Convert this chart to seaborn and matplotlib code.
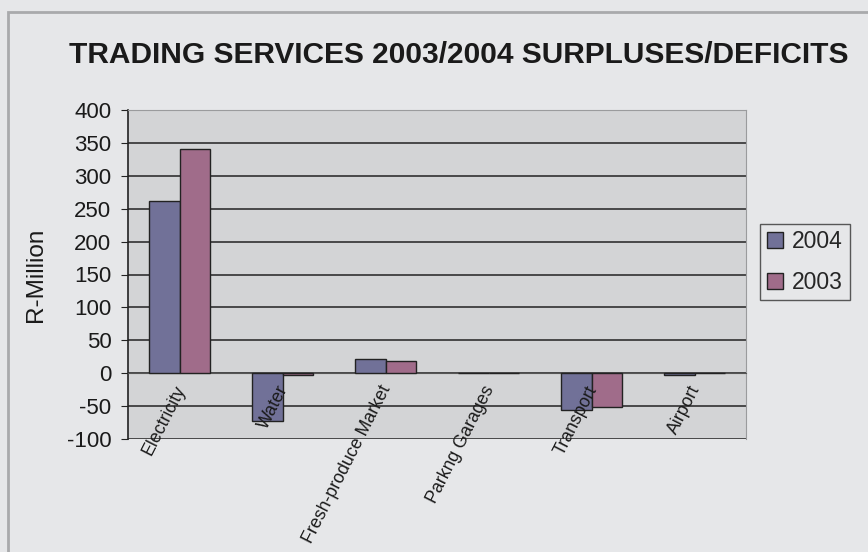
import numpy as np
import pandas as pd
import matplotlib
matplotlib.use('Agg')
import matplotlib.pyplot as plt
import matplotlib.transforms as mtransforms
import seaborn as sns
from matplotlib.patches import Rectangle

categories = ['Electricity', 'Water', 'Fresh-produce Market', 'Parkng Garages', 'Transport', 'Airport']
years = ['2004', '2003']
values_2004 = [262, -73, 22, 0, -56, -3]
values_2003 = [340, -3, 19, 0, -52, 0]
y_ticks = [-100, -50, 0, 50, 100, 150, 200, 250, 300, 350, 400]

colors = ['#717198', '#A06C8A']

df = pd.DataFrame({
    'category': categories * 2,
    'year': [years[0]] * len(categories) + [years[1]] * len(categories),
    'value': values_2004 + values_2003,
})

sns.set_style('white')
plt.rcParams['font.family'] = ['Liberation Sans', 'DejaVu Sans']
plt.rcParams['axes.unicode_minus'] = False

fig = plt.figure(figsize=(8.68, 5.52), dpi=100)
fig.patch.set_facecolor('#E6E7E9')
fig.patches.append(Rectangle((8 / 868, -0.05), 1.1, (552 - 12) / 552 + 0.05,
                             transform=fig.transFigure, fill=False,
                             edgecolor='#A9AAAC', linewidth=2))

ax = fig.add_axes([128 / 868, (552 - 439) / 552, (746 - 128) / 868, (439 - 110) / 552])
ax.set_facecolor('#D3D4D6')

sns.barplot(data=df, x='category', y='value', hue='year', hue_order=years,
            palette=colors, width=0.6, edgecolor='#222222', linewidth=1,
            saturation=1, ax=ax, zorder=3)

ax.set_ylim(-100, 400)
ax.set_xlim(-0.5, len(categories) - 0.5)
ax.set_yticks(y_ticks)
ax.yaxis.grid(True, color='#222222', linewidth=1.1, zorder=0)
ax.set_axisbelow(True)
ax.xaxis.set_zorder(5)

# x axis crosses at zero, ticks between categories
ax.spines['bottom'].set_position(('data', 0))
ax.spines['bottom'].set_color('#555555')
ax.spines['left'].set_color('#222222')
ax.spines['left'].set_linewidth(1.2)
ax.spines['top'].set_color('#9A9B9D')
ax.spines['right'].set_color('#9A9B9D')
ax.set_xticks(np.arange(len(categories)))
ax.set_xticklabels(categories, rotation=63, ha='right', va='top',
                   rotation_mode='anchor', fontsize=12.8, color='#1a1a1a')
ax.tick_params(axis='x', length=0, pad=7)
shift = mtransforms.ScaledTranslation(-0.06, 0, fig.dpi_scale_trans)
for lbl in ax.get_xticklabels():
    lbl.set_transform(lbl.get_transform() + shift)
ax.set_xticks(np.arange(len(categories) - 1) + 0.5, minor=True)
ax.tick_params(axis='x', which='minor', length=4, direction='out', color='#333333')
ax.tick_params(axis='y', length=5, direction='out', color='#222222', pad=7,
               labelsize=16, labelcolor='#1a1a1a', left=True)

ax.set_xlabel('')
ax.set_ylabel('R-Million', fontsize=17.5, color='#1a1a1a', labelpad=14)

fig.text(0.529, 0.9, 'TRADING SERVICES 2003/2004 SURPLUSES/DEFICITS',
         ha='center', va='center', fontsize=21.5, fontweight='bold', color='#1a1a1a')

leg = ax.legend(loc='center left', bbox_to_anchor=(1.023, 0.538), fontsize=16.5,
                frameon=True, fancybox=False, handlelength=0.7, handleheight=0.7,
                handletextpad=0.4, labelspacing=0.75, borderpad=0.3, borderaxespad=0)
leg.get_frame().set_edgecolor('#333333')
leg.get_frame().set_facecolor('#E6E7E9')
leg.get_frame().set_linewidth(1)

fig.savefig('out.png', dpi=100, facecolor=fig.get_facecolor())
